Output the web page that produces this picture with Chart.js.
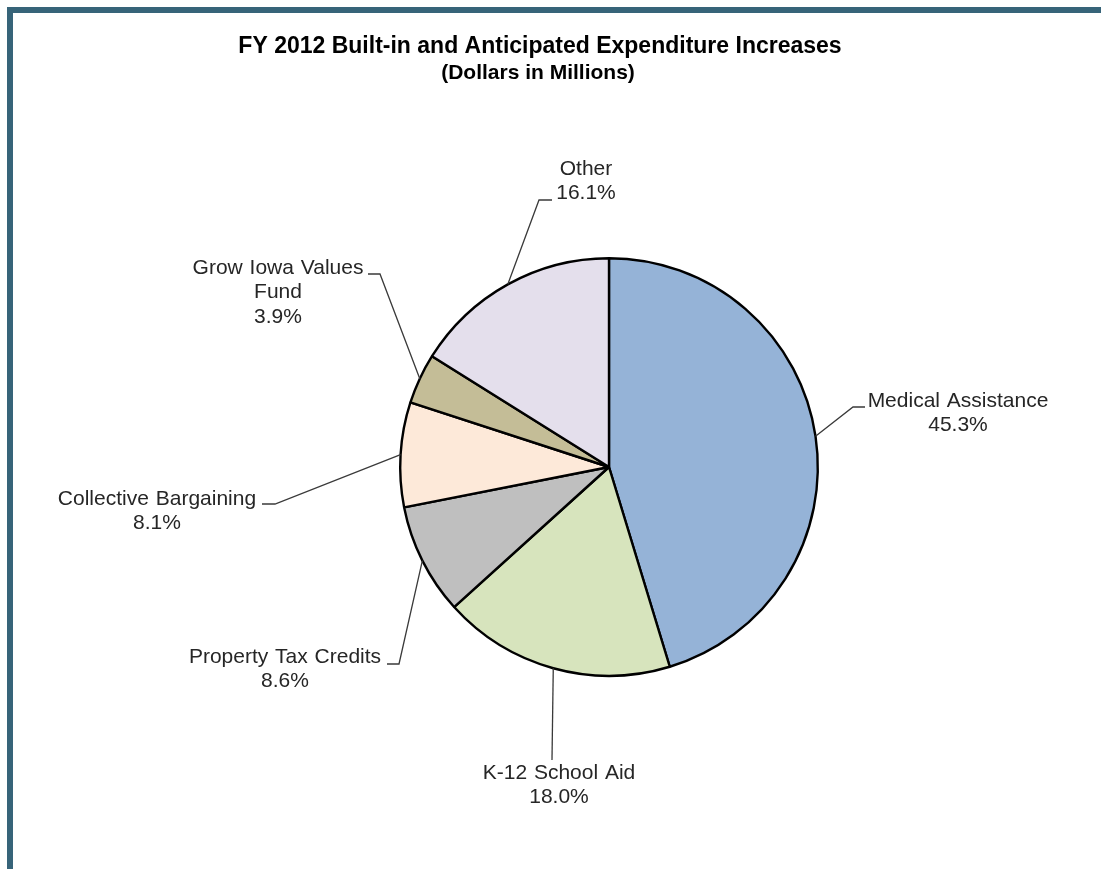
<!DOCTYPE html>
<html>
<head>
<meta charset="utf-8">
<script src="https://cdn.jsdelivr.net/npm/chart.js@4.4.1/dist/chart.umd.min.js"></script>
<style>
  html, body { margin: 0; padding: 0; background: #fff; }
  #wrap { position: relative; width: 1101px; height: 869px; overflow: hidden; }
  #frame { position: absolute; left: 7px; top: 7px; right: 0; bottom: 0;
           border-top: 6px solid #376479; border-left: 6px solid #376479; }
  canvas { position: absolute; left: 0; top: 0; }
</style>
</head>
<body>
<div id="wrap">
  <div id="frame"></div>
  <canvas id="pie" width="1101" height="869"></canvas>
</div>
<script>

// FY 2012 increases, share of total (percent)
const categories = ['Medical Assistance', 'K-12 School Aid', 'Property Tax Credits',
                    'Collective Bargaining', ['Grow Iowa Values', 'Fund'], 'Other']
const shares     = [45.3, 18.0, 8.6, 8.1, 3.9, 16.1]
const sliceColors = ['#95b3d7', '#d7e4bd', '#bfbfbf', '#fde9d9', '#c4bd97', '#e4dfec']

const titleText    = 'FY 2012 Built-in and Anticipated Expenditure Increases'
const subtitleText = '(Dollars in Millions)'

// where each callout sits: text centre, the bend of the leader and its short tail
const callouts = [
      { text: [958, 401], elbow: [853, 407], tail: [865, 407] },
      { text: [559, 773], elbow: [552, 760], tail: null },
      { text: [285, 657], elbow: [399, 664], tail: [387, 664] },
      { text: [157, 499], elbow: [275, 504], tail: [262, 504] },
      { text: [278, 268], elbow: [380, 274], tail: [368, 274] },
      { text: [586, 169], elbow: [539, 200], tail: [552, 200] },
]

const FONT = '"Liberation Sans", Arial, sans-serif'


const calloutPlugin = {
      id: 'callouts',
      afterDatasetsDraw(chart){
            const ctx  = chart.ctx
            const arcs = chart.getDatasetMeta(0).data

            ctx.save()

            // titles
            ctx.fillStyle = '#000'
            ctx.textAlign = 'center'
            ctx.textBaseline = 'middle'
            ctx.font = 'bold 23px ' + FONT
            ctx.fillText(titleText, 540, 47)
            ctx.font = 'bold 21px ' + FONT
            ctx.fillText(subtitleText, 538, 73)

            arcs.forEach((arc, i) => {
                  const p   = arc.getProps(['x', 'y', 'startAngle', 'endAngle', 'outerRadius'], true)
                  const mid = (p.startAngle + p.endAngle) / 2
                  const c   = callouts[i]

                  // leader line from the rim of the slice
                  ctx.strokeStyle = '#3a3a3a'
                  ctx.lineWidth = 1.3
                  ctx.beginPath()
                  ctx.moveTo(p.x + Math.cos(mid) * p.outerRadius, p.y + Math.sin(mid) * p.outerRadius)
                  ctx.lineTo(c.elbow[0], c.elbow[1])
                  if (c.tail) ctx.lineTo(c.tail[0], c.tail[1])
                  ctx.stroke()

                  // name + share
                  const name  = [].concat(categories[i])
                  const lines = name.concat(shares[i].toFixed(1) + '%')
                  ctx.fillStyle = '#262626'
                  ctx.font = '21px ' + FONT
                  ctx.wordSpacing = '1px'
                  lines.forEach((t, k) => ctx.fillText(t, c.text[0], c.text[1] + k * 24.7))
            })

            ctx.restore()
      }
}


new Chart(document.getElementById('pie'), {
      type: 'pie',
      data: {
            labels: categories,
            datasets: [{
                  data: shares,
                  backgroundColor: sliceColors,
                  borderColor: '#000',
                  borderWidth: 2.4,
            }]
      },
      options: {
            responsive: false,
            animation: false,
            layout: { padding: { left: 399, right: 282, top: 257, bottom: 192 } },
            plugins: {
                  legend:  { display: false },
                  tooltip: { enabled: false },
                  title:   { display: false },
            },
      },
      plugins: [calloutPlugin],
})

</script>
</body>
</html>
